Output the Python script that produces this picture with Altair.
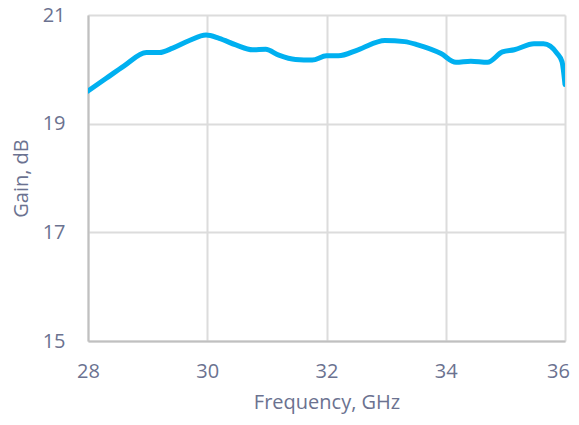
import altair as alt
import pandas as pd

freq = [28.0, 28.3, 28.6, 28.98, 29.2, 29.42, 29.7, 29.98, 30.2, 30.48, 30.76, 30.98,
        31.2, 31.48, 31.76, 32.0, 32.2, 32.53, 32.98, 33.31, 33.53, 33.92, 34.17,
        34.42, 34.7, 34.95, 35.15, 35.48, 35.64, 35.87, 35.95, 36.0]
gain = [19.60, 19.83, 20.06, 20.31, 20.31, 20.39, 20.53, 20.63, 20.57, 20.45, 20.36, 20.37,
        20.26, 20.18, 20.17, 20.25, 20.25, 20.36, 20.53, 20.51, 20.45, 20.29, 20.13,
        20.15, 20.13, 20.32, 20.36, 20.47, 20.47, 20.29, 20.14, 19.72]

df = pd.DataFrame({"f": freq, "g": gain})

label_color = "#6b7290"

chart = alt.Chart(df).mark_line(
    color="#00b0f0", strokeWidth=5, interpolate="monotone", strokeCap="round", clip=True
).encode(
    x=alt.X("f:Q", scale=alt.Scale(domain=[28, 36], nice=False, zero=False),
            axis=alt.Axis(values=[28, 30, 32, 34, 36], title="Frequency, GHz", format="d",
                          labelPadding=20, titlePadding=11,
                          labelOffset={"condition": {"test": "datum.value == 36", "value": -7},
                                       "value": 0})),
    y=alt.Y("g:Q", scale=alt.Scale(domain=[15, 21], nice=False, zero=False),
            axis=alt.Axis(values=[15, 17, 19, 21], title="Gain, dB", format="d",
                          labelPadding=23, titlePadding=11)),
).properties(
    width=477, height=326,
    autosize=alt.AutoSizeParams(type="none"),
    padding={"left": 80, "top": 7, "right": 6, "bottom": 74},
).configure_axis(
    labelFont="Open Sans", titleFont="Open Sans",
    labelFontSize=20, titleFontSize=20, labelColor=label_color, titleColor=label_color,
    titleFontWeight="normal", ticks=False, labelFlush=False,
    gridColor="#dcdcdc", gridWidth=2, domainColor="#c0c0c0", domainWidth=2,
).configure_view(stroke=None)

chart.save("out.html", embed_options={"renderer": "svg", "actions": False})
